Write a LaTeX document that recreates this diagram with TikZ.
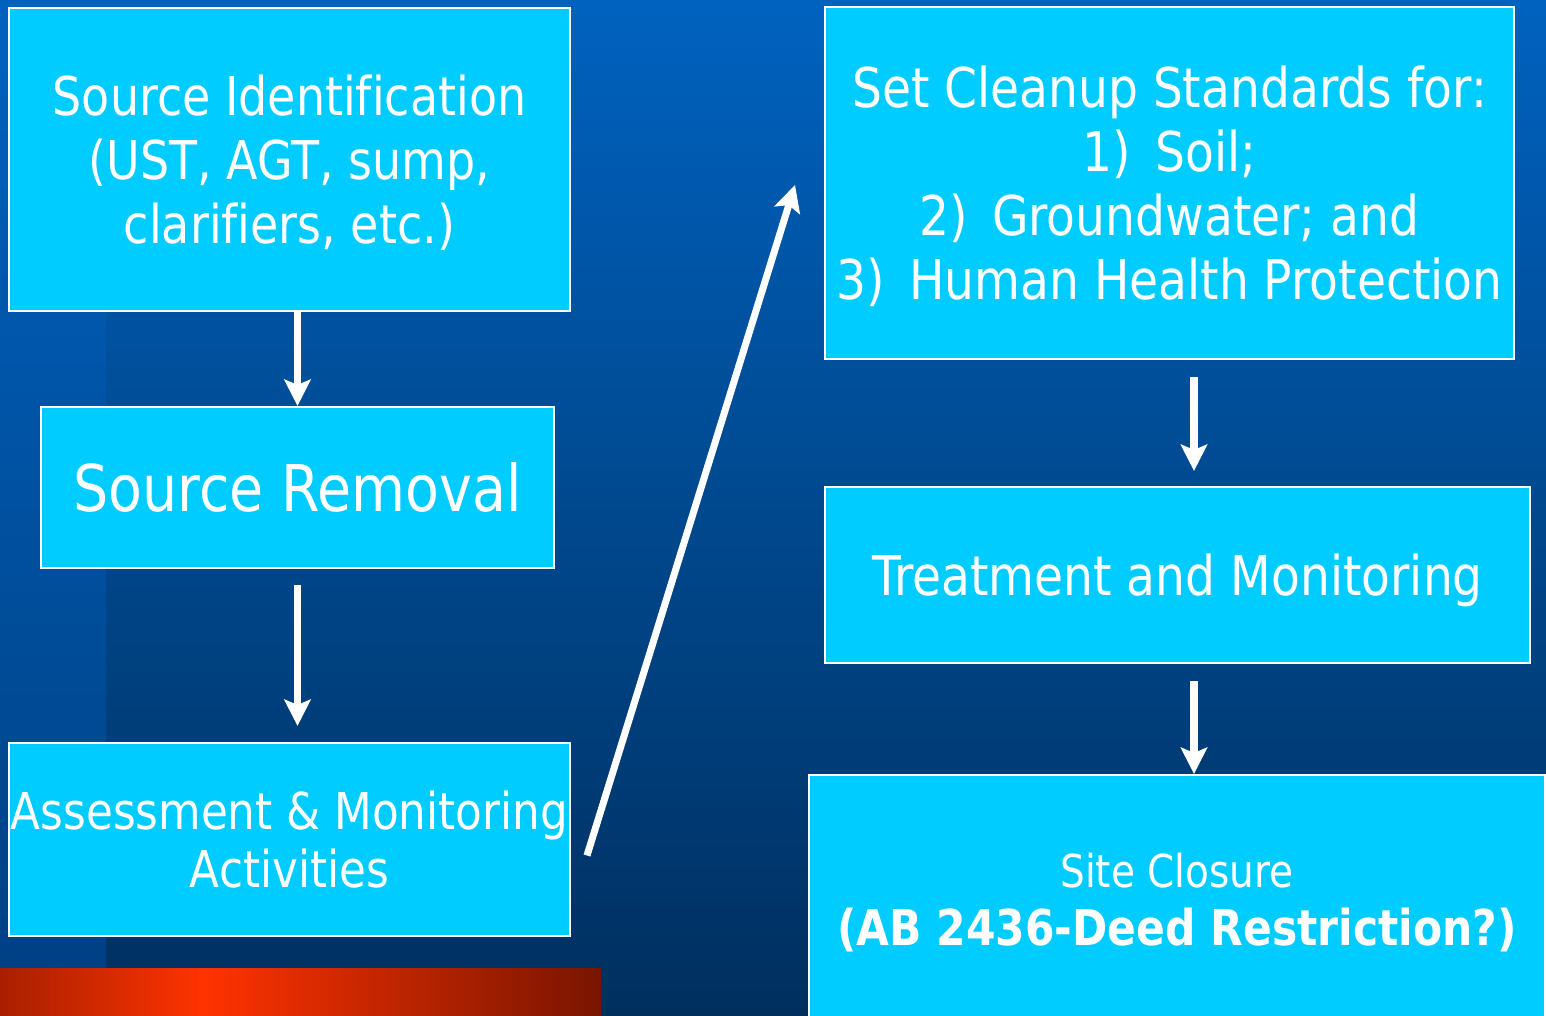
\documentclass[tikz,border=0pt]{standalone}
\usepackage{fontspec}
\setmainfont{DejaVu Sans}[FakeStretch=0.86, Ligatures=NoCommon]
\usepackage{xcolor}
\usetikzlibrary{arrows.meta,calc}

\definecolor{bgtop}{HTML}{0062BF}
\definecolor{bgbot}{HTML}{002F5E}
\definecolor{stripbot}{HTML}{003F82}
\definecolor{boxcyan}{HTML}{00CCFF}
\definecolor{barleft}{HTML}{A82000}
\definecolor{barmid}{HTML}{FF3300}
\definecolor{barright}{HTML}{781500}
\pgfdeclarehorizontalshading{redbar}{100bp}{color(0bp)=(barleft); color(25bp)=(barleft); color(42bp)=(barmid); color(75bp)=(barright); color(100bp)=(barright)}

\tikzset{
    box/.style={draw=white, line width=1.2pt, fill=boxcyan, text=white, align=center, inner sep=0pt, text depth=0pt},
    flow/.style={draw=white, line width=4.5pt, -{Stealth[length=15pt,width=15pt,inset=3pt]}}
}

\begin{document}
\begin{tikzpicture}[x=0.02cm, y=-0.02cm]
    % Background
    \useasboundingbox (0,0) rectangle (1546,1016);
    \clip (0,0) rectangle (1546,1016);
    \shade[top color=bgtop, bottom color=bgbot] (0,0) rectangle (1546,1016);
    \shade[top color=bgtop, bottom color=stripbot] (0,0) rectangle (106,1016);
    \shade[shading=redbar] (0,968) rectangle (601,1016);

    % Left column
    \node[box, minimum width=11.22cm, minimum height=6.06cm,
          font=\fontsize{30.4}{36.4}\selectfont] (ident) at (289.5,159.5)
          {Source Identification\\(UST, AGT, sump,\\clarifiers, etc.)};
    \node[box, minimum width=10.26cm, minimum height=3.22cm,
          font=\fontsize{36.7}{44}\selectfont] (removal) at (297.5,487.5)
          {Source Removal};
    \node[box, minimum width=11.22cm, minimum height=3.86cm,
          font=\fontsize{28.9}{33}\selectfont] (assess) at (289.5,839.5)
          {Assessment \& Monitoring\\Activities};

    % Right column
    \node[box, minimum width=13.78cm, minimum height=7.04cm,
          font=\fontsize{31.2}{36.4}\selectfont] (standards) at (1169.5,183)
          {Set Cleanup Standards for:\\1)\, Soil;\\2)\, Groundwater; and\\3)\, Human Health Protection};
    \node[box, minimum width=14.1cm, minimum height=3.52cm,
          font=\fontsize{31.2}{36.4}\selectfont] (treat) at (1177.5,575)
          {Treatment and Monitoring};
    \node[box, minimum width=14.72cm, minimum height=4.96cm,
          font=\fontsize{25.8}{33}\selectfont] (closure) at (1177,899)
          {Site Closure\\{\fontsize{28.1}{33}\selectfont\bfseries (AB 2436-Deed Restriction?)}};

    % Arrows
    \draw[flow] (ident.south -| removal.north) -- (removal.north);
    \draw[flow, shorten <=0.32cm, shorten >=0.32cm] (removal.south) -- (removal.south |- assess.north);
    \draw[flow, line width=4pt] ([shift={(16,16)}]assess.east) -- ([shift={(-29,2)}]standards.west);
    \draw[flow, shorten <=0.34cm, shorten >=0.3cm] ([xshift=0.49cm]standards.south) -- ([xshift=0.49cm]standards.south |- treat.north);
    \draw[flow, shorten <=0.34cm] ([xshift=0.33cm]treat.south) -- ([xshift=0.33cm]treat.south |- closure.north);
\end{tikzpicture}
\end{document}
